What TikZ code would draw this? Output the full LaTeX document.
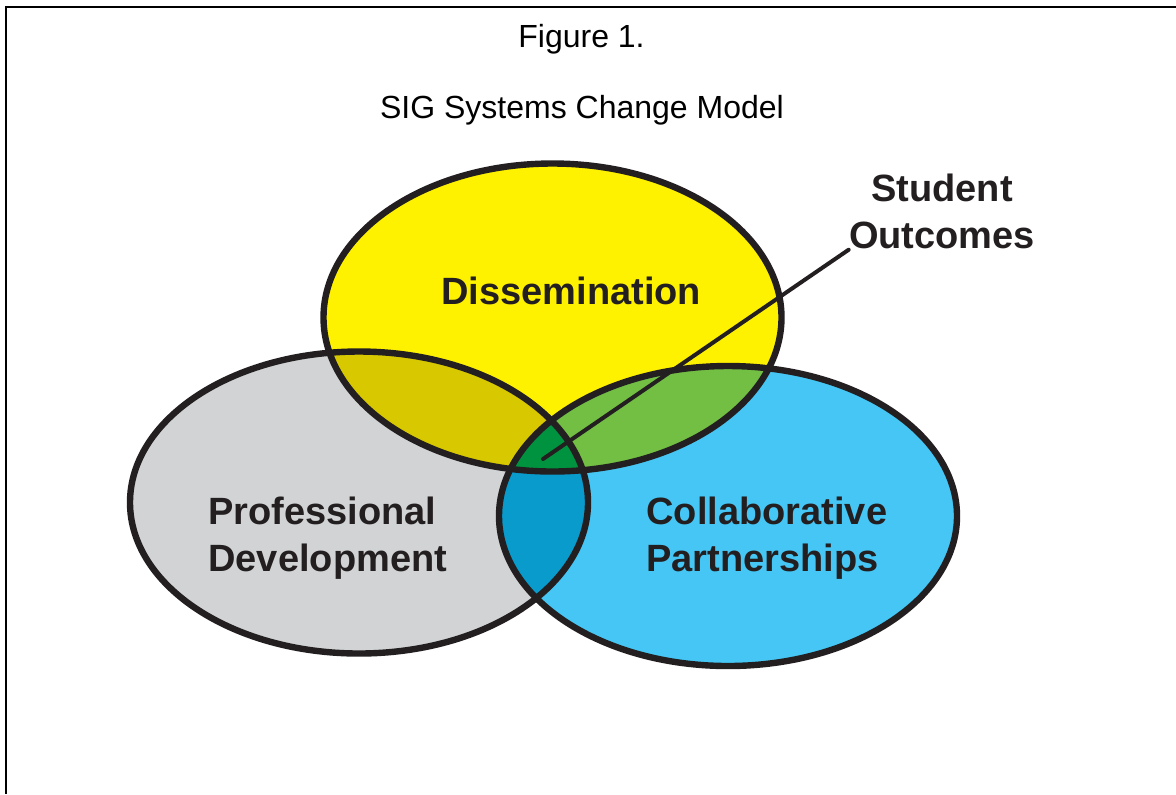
\documentclass[tikz,border=0pt]{standalone}
\usepackage{fontspec}
\setmainfont{Liberation Sans}
\usepackage{tikz}
\tikzset{>=latex}
\definecolor{ink}{HTML}{231F20}
\definecolor{yel}{HTML}{FFF200}
\definecolor{gry}{HTML}{D1D3D4}
\definecolor{blu}{HTML}{45C6F4}
\definecolor{olv}{HTML}{D7C800}
\definecolor{grn}{HTML}{72BF44}
\definecolor{tea}{HTML}{0A9BCD}
\definecolor{dgr}{HTML}{00933F}
\newcommand\disset{(dis) ellipse [x radius=229, y radius=154]}
\newcommand\proset{(pro) ellipse [x radius=229, y radius=151]}
\newcommand\colset{(col) ellipse [x radius=229, y radius=150]}
\tikzset{
    ring/.style={draw=ink,line width=3.2pt},
    ttl/.style={inner sep=0pt,font=\fontsize{16}{19}\selectfont},
    lbl/.style={inner sep=0pt,text=ink,align=left,font=\fontsize{19}{23.5}\selectfont\bfseries}
}

\begin{document}
\begin{tikzpicture}[x=0.5pt,y=-0.5pt]
            \useasboundingbox (0,0) rectangle (1176,794);
            \draw[line width=1.2pt] (1176,7) -- (6,7) -- (6,794);
            \coordinate (dis) at (552.5,317.5);
            \coordinate (pro) at (359,502.5);
            \coordinate (col) at (728,516);
            \coordinate (hub) at (543,459);
            \fill[yel] \disset;
            \fill[gry] \proset;
            \fill[blu] \colset;
            \begin{scope}
                \clip \proset;
                \fill[tea] \colset;
            \end{scope}
            \begin{scope}
                \clip \disset;
                \fill[olv] \proset;
                \fill[grn] \colset;
                \clip \proset;
                \fill[dgr] \colset;
            \end{scope}
            \draw[ring] \disset;
            \draw[ring] \proset;
            \draw[ring] \colset;
            \node[ttl,anchor=base] (fig) at (581.5,47) {Figure 1.};
            \node[ttl,anchor=base] (model) at (582,118) {SIG Systems Change Model};
            \node[lbl,anchor=base west] (diss) at (441,304) {Dissemination};
            \node[lbl,anchor=north west] (prof) at (208,497) {Professional\\Development};
            \node[lbl,anchor=north west] (coll) at (646,497) {Collaborative\\Partnerships};
            \node[lbl,align=center,anchor=north] (outc) at (942,174) {Student\\Outcomes};
            \draw[ink,line width=2pt,line cap=round] (hub) -- (outc.south west);
        \end{tikzpicture}
\end{document}
